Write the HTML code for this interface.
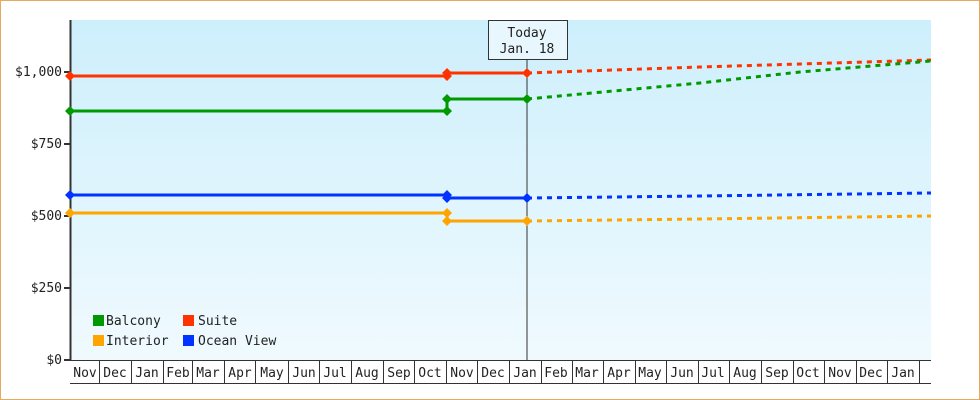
<!DOCTYPE html>
<html><head><meta charset="utf-8"><style>
html,body{margin:0;padding:0;background:#fff}
svg{display:block}
text{font-family:"DejaVu Sans Mono","Liberation Mono",monospace;font-size:13px;fill:#222}
</style></head><body>
<svg width="980" height="400" viewBox="0 0 980 400" xmlns="http://www.w3.org/2000/svg">
<defs><linearGradient id="bg" x1="0" y1="0" x2="0" y2="1"><stop offset="0" stop-color="#cdeffc"/><stop offset="1" stop-color="#f0fafe"/></linearGradient></defs>
<rect x="0.5" y="0.5" width="979" height="399" fill="#fff" stroke="#e9a862"/>
<rect x="70" y="20" width="861" height="340" fill="url(#bg)"/>
<line x1="527" y1="60" x2="527" y2="360" stroke="#333" stroke-width="1"/>
<rect x="488.5" y="20.5" width="79" height="39" fill="#e8f7fd" stroke="#333"/>
<text x="527" y="37" text-anchor="middle">Today</text>
<text x="527" y="53" text-anchor="middle">Jan. 18</text>
<!-- axes -->
<line x1="70.5" y1="20" x2="70.5" y2="361" stroke="#333" stroke-width="2"/>
<line x1="70" y1="360.5" x2="931" y2="360.5" stroke="#333" stroke-width="1"/>
<g stroke="#333" stroke-width="2">
<line x1="64" y1="72" x2="70" y2="72"/><line x1="64" y1="144" x2="70" y2="144"/><line x1="64" y1="216" x2="70" y2="216"/><line x1="64" y1="288" x2="70" y2="288"/><line x1="64" y1="360" x2="70" y2="360"/>
</g>
<g text-anchor="end">
<text x="62" y="76">$1,000</text><text x="62" y="148">$750</text><text x="62" y="220">$500</text><text x="62" y="292">$250</text><text x="62" y="364">$0</text>
</g>
<line x1="70" y1="383.5" x2="931" y2="383.5" stroke="#333"/>
<g stroke="#333" stroke-width="1">
<line x1="99.5" y1="360" x2="99.5" y2="383"/><line x1="131.5" y1="360" x2="131.5" y2="383"/><line x1="163.5" y1="360" x2="163.5" y2="383"/><line x1="192.5" y1="360" x2="192.5" y2="383"/><line x1="224.5" y1="360" x2="224.5" y2="383"/><line x1="255.5" y1="360" x2="255.5" y2="383"/><line x1="288.5" y1="360" x2="288.5" y2="383"/><line x1="319.5" y1="360" x2="319.5" y2="383"/><line x1="351.5" y1="360" x2="351.5" y2="383"/><line x1="383.5" y1="360" x2="383.5" y2="383"/><line x1="414.5" y1="360" x2="414.5" y2="383"/><line x1="446.5" y1="360" x2="446.5" y2="383"/><line x1="477.5" y1="360" x2="477.5" y2="383"/><line x1="509.5" y1="360" x2="509.5" y2="383"/><line x1="541.5" y1="360" x2="541.5" y2="383"/><line x1="572.5" y1="360" x2="572.5" y2="383"/><line x1="603.5" y1="360" x2="603.5" y2="383"/><line x1="635.5" y1="360" x2="635.5" y2="383"/><line x1="666.5" y1="360" x2="666.5" y2="383"/><line x1="698.5" y1="360" x2="698.5" y2="383"/><line x1="729.5" y1="360" x2="729.5" y2="383"/><line x1="761.5" y1="360" x2="761.5" y2="383"/><line x1="793.5" y1="360" x2="793.5" y2="383"/><line x1="824.5" y1="360" x2="824.5" y2="383"/><line x1="856.5" y1="360" x2="856.5" y2="383"/><line x1="887.5" y1="360" x2="887.5" y2="383"/><line x1="919.5" y1="360" x2="919.5" y2="383"/>
</g>
<g text-anchor="middle">
<text x="85" y="377">Nov</text><text x="115" y="377">Dec</text><text x="147" y="377">Jan</text><text x="178" y="377">Feb</text><text x="208" y="377">Mar</text><text x="240" y="377">Apr</text><text x="272" y="377">May</text><text x="304" y="377">Jun</text><text x="335" y="377">Jul</text><text x="367" y="377">Aug</text><text x="399" y="377">Sep</text><text x="430" y="377">Oct</text><text x="462" y="377">Nov</text><text x="493" y="377">Dec</text><text x="525" y="377">Jan</text><text x="556" y="377">Feb</text><text x="587" y="377">Mar</text><text x="619" y="377">Apr</text><text x="650" y="377">May</text><text x="682" y="377">Jun</text><text x="713" y="377">Jul</text><text x="745" y="377">Aug</text><text x="777" y="377">Sep</text><text x="808" y="377">Oct</text><text x="840" y="377">Nov</text><text x="871" y="377">Dec</text><text x="903" y="377">Jan</text>
</g>
<!-- series -->
<g fill="none" stroke-width="3">
<polyline points="70,76 447,76 447,73 527,73" stroke="#ff3300"/>
<polyline points="527,73 700,67 800,64 931,60" stroke="#ff3300" stroke-dasharray="5,5"/>
<polyline points="70,111 447,111 447,99 527,99" stroke="#009900"/>
<polyline points="527,99 700,83 800,72 931,61" stroke="#009900" stroke-dasharray="5,5"/>
<polyline points="70,195 447,195 447,198 527,198" stroke="#0033ff"/>
<polyline points="527,198 700,196 931,193" stroke="#0033ff" stroke-dasharray="5,5"/>
<polyline points="70,213 447,213 447,221 527,221" stroke="#ffa500"/>
<polyline points="527,221 700,219 931,216" stroke="#ffa500" stroke-dasharray="5,5"/>
</g>
<g>
<path d="M70,71 l5,5 -5,5 -5,-5z M447,71 l5,5 -5,5 -5,-5z M447,68 l5,5 -5,5 -5,-5z M527,68 l5,5 -5,5 -5,-5z" fill="#ff3300"/>
<path d="M70,106 l5,5 -5,5 -5,-5z M447,106 l5,5 -5,5 -5,-5z M447,94 l5,5 -5,5 -5,-5z M527,94 l5,5 -5,5 -5,-5z" fill="#009900"/>
<path d="M70,190 l5,5 -5,5 -5,-5z M447,190 l5,5 -5,5 -5,-5z M447,193 l5,5 -5,5 -5,-5z M527,193 l5,5 -5,5 -5,-5z" fill="#0033ff"/>
<path d="M70,208 l5,5 -5,5 -5,-5z M447,208 l5,5 -5,5 -5,-5z M447,216 l5,5 -5,5 -5,-5z M527,216 l5,5 -5,5 -5,-5z" fill="#ffa500"/>
</g>
<!-- legend -->
<rect x="93" y="315" width="11" height="11" fill="#009900"/><text x="106" y="325">Balcony</text>
<rect x="183" y="315" width="11" height="11" fill="#ff3300"/><text x="198" y="325">Suite</text>
<rect x="93" y="335" width="11" height="11" fill="#ffa500"/><text x="106" y="345">Interior</text>
<rect x="183" y="335" width="11" height="11" fill="#0033ff"/><text x="198" y="345">Ocean View</text>
</svg>
</body></html>
